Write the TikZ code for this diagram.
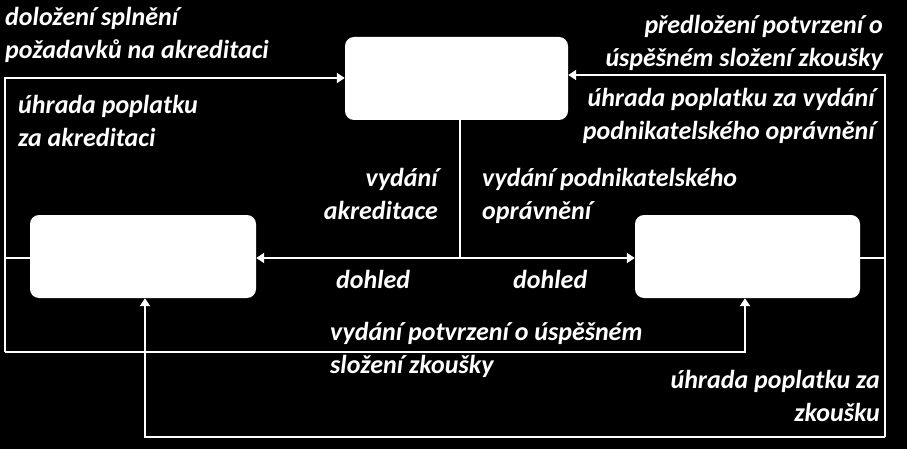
\documentclass[tikz,border=0pt]{standalone}
\usepackage{fontspec}
\setmainfont{Carlito}
\usetikzlibrary{arrows.meta}
\begin{document}
\begin{tikzpicture}[x=1pt,y=-1pt,
  box/.style={fill=white,rounded corners=9pt,draw=none},
  ln/.style={draw=white,line width=2.4pt},
  ar/.style={ln,-{Triangle[length=8pt,width=10pt]}},
  lbl/.style={text=white,font=\bfseries\itshape\fontsize{26}{33}\selectfont,inner sep=0pt}]
\fill[black] (0,0) rectangle (907,449);
\useasboundingbox (0,0) rectangle (907,449);
\node[box,minimum width=223pt,minimum height=83pt] (top) at (456.5,78.5) {};
\node[box,minimum width=226pt,minimum height=83pt] (left) at (143,256.5) {};
\node[box,minimum width=225pt,minimum height=83pt] (right) at (747.5,256.5) {};
\coordinate (jn) at (460,258);
\coordinate (l1) at (5,78); \coordinate (l2) at (5,258); \coordinate (l3) at (5,352);
\coordinate (r1) at (885,75); \coordinate (r2) at (885,258); \coordinate (r3) at (885,437);
\coordinate (b1) at (745,352); \coordinate (b2) at (145,437);
\draw[ln] (top.south -| jn) -- (jn);
\draw[ar] (jn) -- (left.east |- jn);
\draw[ar] (jn) -- (right.west |- jn);
\draw[ln] (left.west |- l2) -- (l2);
\draw[ar] (l3) -- (l1) -- (top.west |- l1);
\draw[ar] (l3) -- (b1) -- (right.south -| b1);
\draw[ln] (right.east |- r2) -- (r2);
\draw[ar] (r3) -- (r1) -- (top.east |- r1);
\draw[ar] (r3) -- (b2) -- (left.south -| b2);
\node[lbl,anchor=north west,align=left] at (5,7) {doložení splnění\\požadavků na akreditaci};
\node[lbl,anchor=north west,align=left] at (18,95) {úhrada poplatku\\za akreditaci};
\node[lbl,anchor=north east,align=right] at (883,15) {předložení potvrzení o\\úspěšném složení zkoušky};
\node[lbl,anchor=north east,align=right] at (875,88) {úhrada poplatku za vydání\\podnikatelského oprávnění};
\node[lbl,anchor=north east,align=right] at (438,168) {vydání\\akreditace};
\node[lbl,anchor=north west,align=left] at (482,168) {vydání podnikatelského\\oprávnění};
\node[lbl,anchor=north west] at (336,270) {dohled};
\node[lbl,anchor=north west] at (513,270) {dohled};
\node[lbl,anchor=north west,align=left] at (330,322) {vydání potvrzení o úspěšném\\složení zkoušky};
\node[lbl,anchor=north east,align=right] at (880,370) {úhrada poplatku za\\zkoušku};
\end{tikzpicture}
\end{document}
